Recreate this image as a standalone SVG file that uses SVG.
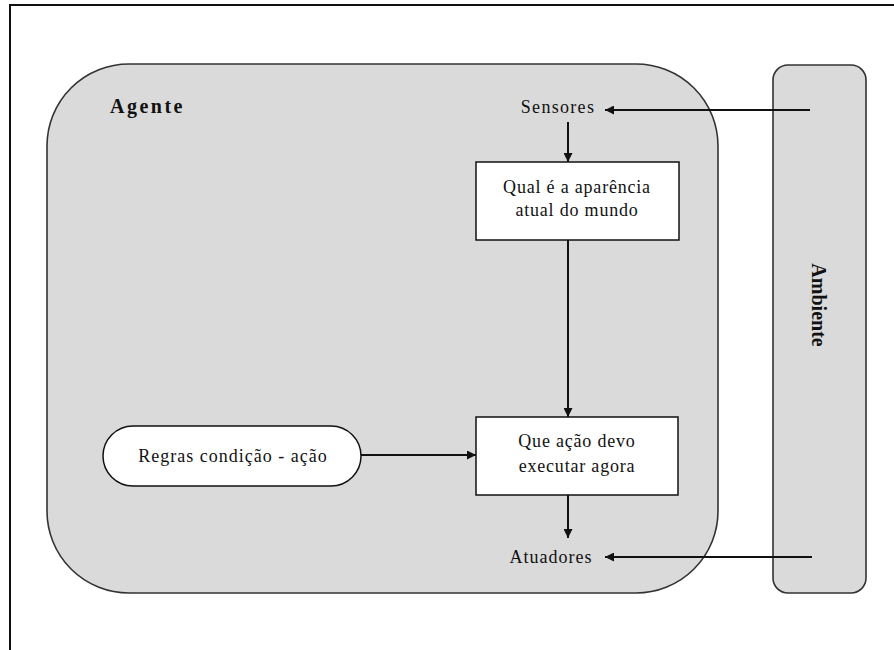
<svg xmlns="http://www.w3.org/2000/svg" width="894" height="650" viewBox="0 0 894 650">
  <style>
    .frame { fill: none; stroke: #111; stroke-width: 2; }
    .region { fill: #dadada; stroke: #333; stroke-width: 1.6; }
    .box { fill: #fff; stroke: #111; stroke-width: 1.5; }
    .wire { fill: none; stroke: #111; stroke-width: 2; }
    .lbl { font-family: "Liberation Serif", "Times New Roman", serif; font-size: 18px; fill: #111; }
    .ttl { font-family: "Liberation Serif", "Times New Roman", serif; font-size: 20px; font-weight: bold; fill: #111; }
    .c { text-anchor: middle; }
  </style>
  <defs>
    <marker id="arrow" viewBox="0 0 10 10" refX="10" refY="5" markerWidth="10" markerHeight="9" markerUnits="userSpaceOnUse" orient="auto">
      <path d="M0,0 L10,5 L0,10 z" fill="#111"/>
    </marker>
  </defs>

  <rect width="894" height="650" fill="#fff"/>
  <path class="frame" d="M10,650 V5 H894"/>

  <g id="agente">
    <rect class="region" x="47" y="64" width="671" height="529" rx="82" ry="82"/>
    <text class="ttl" x="110" y="113" letter-spacing="2.5">Agente</text>
  </g>

  <g id="ambiente">
    <rect class="region" x="773" y="65" width="93" height="528" rx="15" ry="15"/>
    <text class="ttl c" transform="translate(812,305) rotate(90)">Ambiente</text>
  </g>

  <g id="sensores">
    <text class="lbl" x="558" y="113" text-anchor="middle" letter-spacing="1.3">Sensores</text>
  </g>

  <g id="estado">
    <rect class="box" x="476" y="162" width="203" height="78"/>
    <text class="lbl c" x="577" y="193" letter-spacing="0.8">Qual é a aparência</text>
    <text class="lbl c" x="577" y="216" letter-spacing="0.8">atual do mundo</text>
  </g>

  <g id="regras">
    <rect class="box" x="103" y="426" width="258" height="60" rx="30" ry="30"/>
    <text class="lbl c" x="233" y="462" letter-spacing="1">Regras condição - ação</text>
  </g>

  <g id="acao">
    <rect class="box" x="476" y="417" width="202" height="78"/>
    <text class="lbl c" x="577" y="447" letter-spacing="0.8">Que ação devo</text>
    <text class="lbl c" x="577" y="472" letter-spacing="0.8">executar agora</text>
  </g>

  <g id="atuadores">
    <text class="lbl" x="551" y="563" text-anchor="middle" letter-spacing="1">Atuadores</text>
  </g>

  <g id="connectors">
    <path class="wire" d="M810,110 H605" marker-end="url(#arrow)"/>
    <path class="wire" d="M568,122 V162" marker-end="url(#arrow)"/>
    <path class="wire" d="M568,240 V417" marker-end="url(#arrow)"/>
    <path class="wire" d="M361,455 H476" marker-end="url(#arrow)"/>
    <path class="wire" d="M568,495 V538" marker-end="url(#arrow)"/>
    <path class="wire" d="M812,557 H605" marker-end="url(#arrow)"/>
  </g>
</svg>
